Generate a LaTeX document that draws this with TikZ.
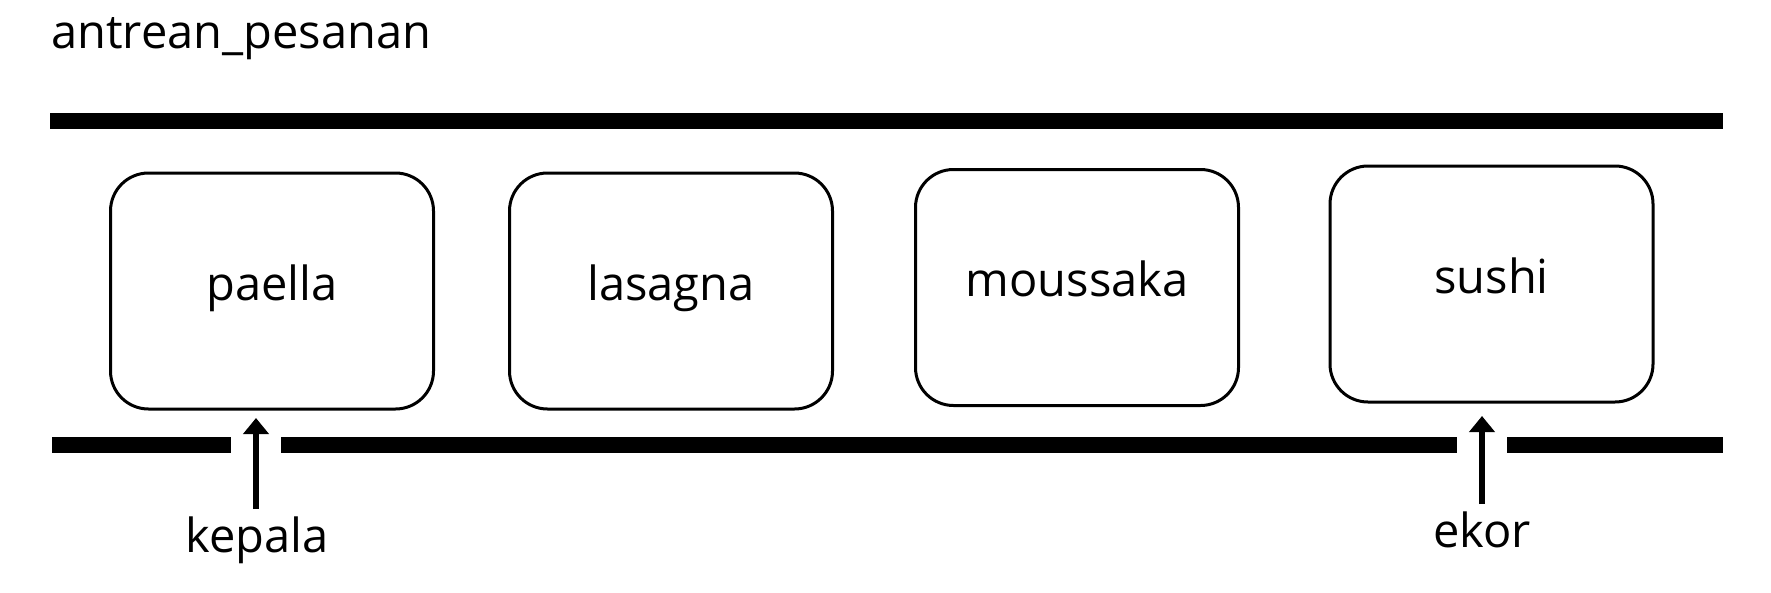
\documentclass[tikz,border=0pt]{standalone}
\usepackage{fontspec}
\setmainfont{Open Sans}
\usetikzlibrary{arrows.meta}
\begin{document}
\begin{tikzpicture}[x=1pt,y=-1pt,
  bar/.style={line width=16pt,line cap=butt},
  itembox/.style={draw,line width=3pt,rounded corners=38pt,minimum width=323pt,minimum height=236pt,inner sep=0pt,text height=28pt,text depth=10pt,font=\fontsize{47}{56}\selectfont},
  lbl/.style={anchor=base,inner sep=0pt,font=\fontsize{47}{56}\selectfont},
  ptr/.style={line width=5.5pt,-{Triangle[width=25pt,length=16pt]}}]
\useasboundingbox (0,0) rectangle (1771,592);
\node[lbl,anchor=base west] (title) at (51,48) {antrean\_pesanan};
% rails
\coordinate (t1) at (50,120.5); \coordinate (t2) at (1723,120.5);
\draw[bar] (t1) -- (t2);
\coordinate (b1) at (52,445); \coordinate (b2) at (231,445);
\coordinate (b3) at (281,445); \coordinate (b4) at (1457,445);
\coordinate (b5) at (1507,445); \coordinate (b6) at (1723,445);
\draw[bar] (b1) -- (b2);
\draw[bar] (b3) -- (b4);
\draw[bar] (b5) -- (b6);
% items
\node[itembox] (p1) at (272,291) {paella};
\node[itembox] (p2) at (671,291) {lasagna};
\node[itembox] (p3) at (1077,287.5) {moussaka};
\node[itembox] (p4) at (1491.5,284) {sushi};
% pointers
\node[lbl] (kepala) at (257,552) {kepala};
\node[lbl] (ekor) at (1482,547) {ekor};
\coordinate (kh) at (256,418);
\coordinate (eh) at (1482,416);
\draw[ptr] (kepala.north -| kh) ++(0,-7) coordinate (kt) (kt) -- (kh);
\draw[ptr] (ekor.north -| eh) ++(0,-7) coordinate (et) (et) -- (eh);
\end{tikzpicture}
\end{document}
